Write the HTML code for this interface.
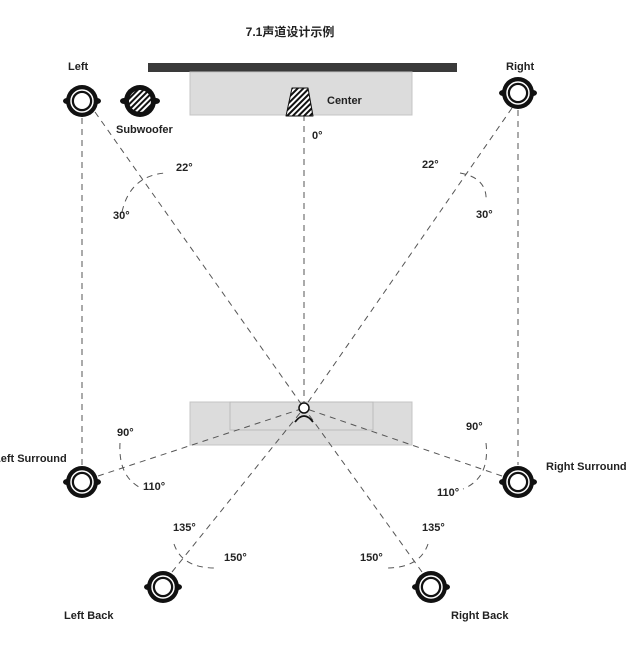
<!DOCTYPE html>
<html><head><meta charset="utf-8"><style>
body{margin:0;background:#fff;}
svg text{font-family:"Liberation Sans","Noto Sans CJK SC",sans-serif;font-weight:bold;font-size:11px;fill:#222;}
</style></head><body>
<svg width="636" height="657" viewBox="0 0 636 657">
<defs>
<pattern id="h" width="4" height="4" patternUnits="userSpaceOnUse" patternTransform="rotate(45)"><rect width="4" height="4" fill="#fff"/><rect width="2" height="4" fill="#111"/></pattern>
<g id="sp"><ellipse cx="-15" cy="0" rx="4" ry="3" fill="#111"/><ellipse cx="15" cy="0" rx="4" ry="3" fill="#111"/><circle r="16" fill="#111"/><circle r="11" fill="none" stroke="#fff" stroke-width="1.5"/><circle r="8" fill="#fff"/></g>
</defs>
<text x="290" y="36" text-anchor="middle" style="font-size:12px">7.1声道设计示例</text>
<rect x="148" y="63" width="309" height="9" fill="#3a3a3a"/>
<rect x="190" y="72" width="222" height="43" fill="#dcdcdc" stroke="#c4c4c4"/>
<rect x="190" y="402" width="222" height="43" fill="#dcdcdc" stroke="#c4c4c4"/>
<rect x="230" y="402" width="143" height="28" fill="#dcdcdc" stroke="#bbb"/>
<g stroke="#555" stroke-width="1" stroke-dasharray="6,5" fill="none">
<line x1="304" y1="115" x2="304" y2="402"/>
<line x1="82" y1="118" x2="82" y2="465"/>
<line x1="518" y1="110" x2="518" y2="465"/>
<line x1="95" y1="112" x2="304" y2="408"/>
<line x1="512" y1="108" x2="304" y2="408"/>
<line x1="98" y1="476" x2="304" y2="408"/>
<line x1="502" y1="476" x2="304" y2="408"/>
<line x1="172" y1="572" x2="304" y2="408"/>
<line x1="422" y1="572" x2="304" y2="408"/>
<path d="M122 212 Q130 176 165 173"/>
<path d="M460 173 Q488 178 486 202"/>
<path d="M120 443 Q118 478 143 489"/>
<path d="M486 443 Q490 478 463 489"/>
<path d="M174 544 Q182 568 215 568"/>
<path d="M428 544 Q420 568 386 568"/>
</g>
<circle cx="304" cy="408" r="5" fill="#fff" stroke="#111" stroke-width="1.5"/>
<path d="M295 422 Q304 410 313 422" fill="none" stroke="#111" stroke-width="1.8"/>
<path d="M292 88 L308 88 L313 116 L286 116 Z" fill="url(#h)" stroke="#111" stroke-linejoin="round" stroke-width="1"/>
<use href="#sp" x="82" y="101"/>
<use href="#sp" x="518" y="93"/>
<use href="#sp" x="82" y="482"/>
<use href="#sp" x="518" y="482"/>
<use href="#sp" x="163" y="587"/>
<use href="#sp" x="431" y="587"/>
<ellipse cx="124" cy="101" rx="4" ry="3" fill="#111"/><ellipse cx="156" cy="101" rx="4" ry="3" fill="#111"/>
<circle cx="140" cy="101" r="16" fill="#111"/><circle cx="140" cy="101" r="11" fill="url(#h)"/>
<text x="68" y="70">Left</text>
<text x="506" y="70">Right</text>
<text x="116" y="133">Subwoofer</text>
<text x="327" y="104">Center</text>
<text x="312" y="139">0°</text>
<text x="176" y="171">22°</text>
<text x="113" y="219">30°</text>
<text x="422" y="168">22°</text>
<text x="476" y="218">30°</text>
<text x="117" y="436">90°</text>
<text x="143" y="490">110°</text>
<text x="466" y="430">90°</text>
<text x="437" y="496">110°</text>
<text x="173" y="531">135°</text>
<text x="224" y="561">150°</text>
<text x="422" y="531">135°</text>
<text x="360" y="561">150°</text>
<text x="-6" y="462">Left Surround</text>
<text x="546" y="470">Right Surround</text>
<text x="64" y="619">Left Back</text>
<text x="451" y="619">Right Back</text>
</svg>
</body></html>
